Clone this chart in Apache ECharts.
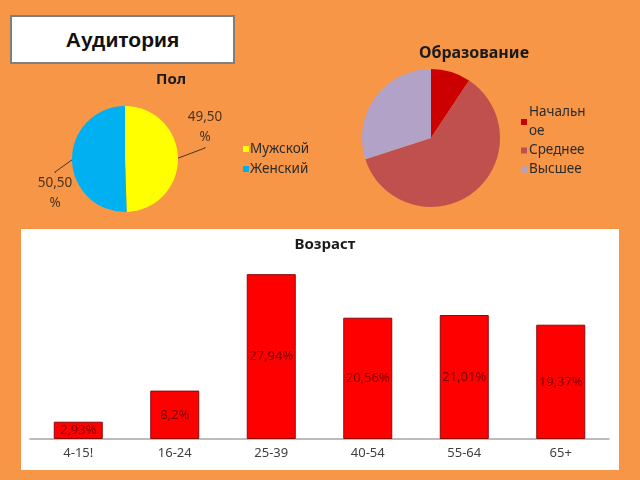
<!DOCTYPE html>
<html>
<head>
<meta charset="utf-8">
<script src="https://cdn.jsdelivr.net/npm/echarts@6/dist/echarts.min.js"></script>
<style>
  html, body { margin: 0; padding: 0; width: 640px; height: 480px; background: #F79646; overflow: hidden; }
  #box { position: absolute; left: 10px; top: 15px; width: 221px; height: 45px; background: #fff; border: 2px solid #7f7f7f;
         font-family: "Liberation Sans", Arial, sans-serif; font-weight: bold; font-size: 21px; color: #111;
         display: flex; align-items: center; justify-content: center; }
  #panel { position: absolute; left: 21px; top: 229px; width: 598px; height: 241px; background: #fff; }
  #chart { position: absolute; left: 0; top: 0; width: 640px; height: 480px; }
</style>
</head>
<body>
<div id="box">Аудитория</div>
<div id="panel"></div>
<div id="chart"></div>
<script>
// Gender
const genderNames = ['Мужской', 'Женский'];
const genderValues = [49.5, 50.5];
// Education
const eduNames = ['Начальное', 'Среднее', 'Высшее'];
const eduValues = [9.3, 60.7, 30];
// Age
const ageCategories = ['4-15!', '16-24', '25-39', '40-54', '55-64', '65+'];
const ageValues = [2.93, 8.2, 27.94, 20.56, 21.01, 19.37];

const FONT = '"Noto Sans", "Liberation Sans", sans-serif';
const fmt = v => String(v).replace('.', ',');

const chart = echarts.init(document.getElementById('chart'), null, { renderer: 'canvas' });
chart.setOption({
  backgroundColor: 'transparent',
  animation: false,
  title: [
    { text: 'Пол', left: 166, top: 67, textAlign: 'center',
      textStyle: { fontFamily: FONT, fontWeight: 'bold', fontSize: 15, color: '#1a1a1a' } },
    { text: 'Образование', left: 469, top: 40, textAlign: 'center',
      textStyle: { fontFamily: FONT, fontWeight: 'bold', fontSize: 16, color: '#1a1a1a' } },
    { text: 'Возраст', left: 320, top: 232, textAlign: 'center',
      textStyle: { fontFamily: FONT, fontWeight: 'bold', fontSize: 15, color: '#1a1a1a' } }
  ],
  legend: [
    { data: genderNames, orient: 'vertical', left: 238, top: 136, itemWidth: 6, itemHeight: 6, itemGap: 4,
      icon: 'rect', selectedMode: false,
      textStyle: { fontFamily: FONT, fontSize: 13.5, color: '#2b2b2b', lineHeight: 16, padding: [0, 0, 0, -4] } },
    { data: eduNames, orient: 'vertical', left: 516, top: 98, itemWidth: 6, itemHeight: 6, itemGap: 0,
      icon: 'rect', selectedMode: false,
      formatter: n => n === 'Начальное' ? 'Начальн\nое' : n,
      textStyle: { fontFamily: FONT, fontSize: 13.5, color: '#2b2b2b', lineHeight: 19, padding: [0, 0, 0, -3] } }
  ],
  grid: { left: 30, right: 31, top: 262, bottom: 41 },
  xAxis: {
    type: 'category', data: ageCategories,
    axisLine: { lineStyle: { color: '#a6a6a6', width: 1.5 } },
    axisTick: { show: false },
    axisLabel: { fontFamily: FONT, fontSize: 13, color: '#404040', margin: 8 }
  },
  yAxis: { type: 'value', min: 0, max: 30, show: false, splitLine: { show: false } },
  series: [
    {
      type: 'pie', center: [125, 159], radius: 53, startAngle: 90, clockwise: true,
      data: genderNames.map((n, i) => ({ name: n, value: genderValues[i] })),
      color: ['#FFFF00', '#00B0F0'],
      label: { show: true, position: 'outside', formatter: p => fmt(p.value.toFixed(2)) + '\n%',
               fontFamily: FONT, fontSize: 13.5, color: '#4a3420', lineHeight: 20, align: 'center' },
      labelLine: { show: true, length: 1, length2: 1, lineStyle: { color: '#4a3420', width: 1 } },
      labelLayout: p => p.dataIndex === 0
        ? { x: 205, y: 127, align: 'center', verticalAlign: 'middle' }
        : { x: 55, y: 193, align: 'center', verticalAlign: 'middle' },
      emphasis: { disabled: true }
    },
    {
      type: 'pie', center: [431, 138], radius: 69, startAngle: 90, clockwise: true,
      data: eduNames.map((n, i) => ({ name: n, value: eduValues[i] })),
      color: ['#CC0000', '#C0504D', '#B3A2C7'],
      label: { show: false }, labelLine: { show: false },
      emphasis: { disabled: true }
    },
    {
      type: 'bar', data: ageValues, barWidth: 49,
      itemStyle: { color: '#FF0000', borderColor: '#8B0A0A', borderWidth: 1 },
      label: { show: true, position: 'inside', formatter: p => fmt(p.value) + '%',
               fontFamily: FONT, fontSize: 13, color: '#7a0000' },
      emphasis: { disabled: true }
    }
  ]
});
</script>
</body>
</html>
